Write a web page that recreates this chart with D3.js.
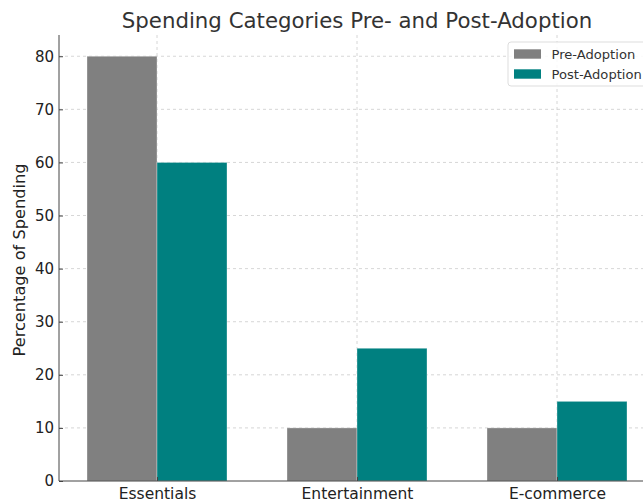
<!DOCTYPE html>
<html lang="en">
<head>
    <meta charset="UTF-8">
    <title>Spending Categories</title>
    <script src="https://cdn.jsdelivr.net/npm/d3@7"></script>
    <style>
        body { margin: 0; background: #fff; }
        svg { font-family: "DejaVu Sans", sans-serif; }
        .grid line { stroke: #ccc; stroke-dasharray: 3, 3; stroke-width: 0.8; }
        .axis path, .axis line { stroke: #444; }
        .axis text { fill: #222; font-family: "DejaVu Sans", sans-serif; }
        .y.axis text { font-size: 15px; }
        .x.axis text { font-size: 15.5px; }
    </style>
</head>
<body>
<script>
    const categories = ['Essentials', 'Entertainment', 'E-commerce']
    const preAdoption = [80, 10, 10]
    const postAdoption = [60, 25, 15]
    const seriesNames = ['Pre-Adoption', 'Post-Adoption']
    const colors = ['#808080', '#008080']
    const yTicks = [0, 10, 20, 30, 40, 50, 60, 70, 80]

    const width = 643
    const height = 502
    const mLeft = 59, mRight = 655, mTop = 35, mBottom = 481

    const svg = d3.select('body').append('svg').attr('width', width).attr('height', height)

    // category positions as in matplotlib: index -0.49 .. 2.49
    const x = d3.scaleLinear().domain([-0.49, 2.49]).range([mLeft, mRight])
    const y = d3.scaleLinear().domain([0, 84]).range([mBottom, mTop])
    const barW = 0.35

    // grid
    const grid = svg.append('g').attr('class', 'grid')
    grid.selectAll('.hy').data(yTicks.slice(1)).enter().append('line')
        .attr('x1', mLeft).attr('x2', mRight)
        .attr('y1', d => y(d)).attr('y2', d => y(d))
    grid.selectAll('.vx').data(categories).enter().append('line')
        .attr('x1', (d, i) => x(i)).attr('x2', (d, i) => x(i))
        .attr('y1', mTop).attr('y2', mBottom)

    // bars
    const series = [preAdoption, postAdoption]
    series.forEach((vals, s) => {
        svg.append('g').selectAll('rect')
            .data(vals)
            .enter()
            .append('rect')
            .attr('x', (d, i) => x(i + (s === 0 ? -barW : 0)))
            .attr('y', d => y(d))
            .attr('width', x(barW) - x(0))
            .attr('height', d => y(0) - y(d))
            .attr('fill', colors[s])
            .attr('stroke', '#fff')
            .attr('stroke-opacity', 0.4)
            .attr('stroke-width', 0.8)
    })

    // axes (ticks point inward)
    const yAxis = d3.axisLeft(y).tickValues(yTicks).tickSize(0).tickPadding(5)
    svg.append('g').attr('class', 'y axis')
        .attr('transform', 'translate(' + mLeft + ',0)')
        .call(yAxis)
        .call(g => g.select('.domain').attr('d', 'M0,' + mTop + 'V' + mBottom))
        .call(g => g.selectAll('.tick line').attr('x1', 0).attr('x2', 4))

    const xAxis = d3.axisBottom(x).tickValues([0, 1, 2]).tickFormat(i => categories[i]).tickSize(4).tickPadding(3)
    svg.append('g').attr('class', 'x axis')
        .attr('transform', 'translate(0,' + mBottom + ')')
        .call(xAxis)
        .call(g => g.select('.domain').attr('d', 'M' + mLeft + ',0H' + mRight))
        .call(g => g.selectAll('.tick line').attr('y1', -4).attr('y2', 0))

    // title
    svg.append('text')
        .attr('x', (mLeft + mRight) / 2).attr('y', 28)
        .attr('text-anchor', 'middle')
        .attr('font-size', 21.3).attr('fill', '#333')
        .text('Spending Categories Pre- and Post-Adoption')

    // y label
    svg.append('text')
        .attr('transform', 'translate(25,260) rotate(-90)')
        .attr('text-anchor', 'middle')
        .attr('font-size', 16.2).attr('fill', '#222')
        .text('Percentage of Spending')

    // legend
    const lg = svg.append('g').attr('transform', 'translate(508,42)')
    lg.append('rect').attr('width', 150).attr('height', 44).attr('rx', 3)
        .attr('fill', '#fff').attr('fill-opacity', 0.85).attr('stroke', '#ddd')
    seriesNames.forEach((name, i) => {
        lg.append('rect').attr('x', 6).attr('y', 7.3 + i * 20).attr('width', 27).attr('height', 9.4)
            .attr('fill', colors[i])
        lg.append('text').attr('x', 43.5).attr('y', 17.3 + i * 20)
            .attr('font-size', 13.1).attr('fill', '#333')
            .text(name)
    })
</script>
</body>
</html>
